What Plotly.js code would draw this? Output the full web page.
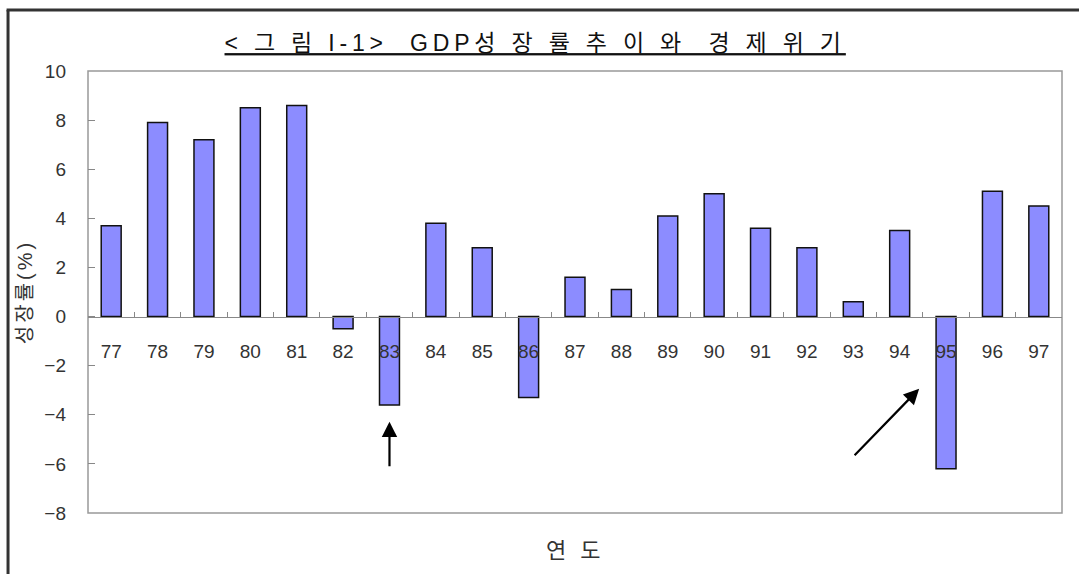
<!DOCTYPE html>
<html>
<head>
<meta charset="utf-8">
<script src="https://cdn.plot.ly/plotly-3.0.1.min.js"></script>
<style>
  html, body { margin: 0; padding: 0; background: #fff; }
  #chart { width: 1079px; height: 574px; }
</style>
</head>
<body>
<div id="chart"></div>
<script>
// Data
const years = ['77','78','79','80','81','82','83','84','85','86','87','88','89','90','91','92','93','94','95','96','97'];
const growth = [3.7, 7.9, 7.2, 8.5, 8.6, -0.5, -3.6, 3.8, 2.8, -3.3, 1.6, 1.1, 4.1, 5.0, 3.6, 2.8, 0.6, 3.5, -6.2, 5.1, 4.5];
const yTicks = [-8, -6, -4, -2, 0, 2, 4, 6, 8, 10];
const yMin = -8, yMax = 10;

const titleText = '<u><span style="letter-spacing:4.8px">&lt; 그 림 I-1&gt;  GDP성 장 률 추 이 와  경 제 위 기</span></u>';
const yTitle = '<span style="letter-spacing:3px">성장률(%)</span>';
const xTitle = '<span style="letter-spacing:4px">연 도</span>';

const fontFam = '"Liberation Sans", "Noto Sans CJK KR", Arial, sans-serif';

const trace = {
  type: 'bar',
  x: years,
  y: growth,
  marker: { color: '#8c8cff', line: { color: '#111', width: 1.5 } },
  hoverinfo: 'x+y'
};

const layout = {
  width: 1079, height: 574,
  margin: { l: 88, r: 17, t: 71, b: 61 },
  paper_bgcolor: '#fff', plot_bgcolor: '#fff',
  font: { family: fontFam, color: '#333' },
  showlegend: false,
  bargap: 0.57,
  title: {
    text: titleText,
    font: { family: fontFam, size: 23, color: '#111' },
    x: 0.496, xref: 'container', xanchor: 'center',
    y: 0.925, yref: 'container', yanchor: 'middle'
  },
  xaxis: {
    type: 'category',
    anchor: 'free',
    position: (0 - yMin) / (yMax - yMin),
    showline: true, linecolor: '#888', linewidth: 1.5,
    ticks: 'inside', tickson: 'boundaries', ticklen: 5, tickcolor: '#888', tickwidth: 1,
    tickfont: { size: 19, color: '#333' },
    ticklabelstandoff: 17,
    showgrid: false, zeroline: false, fixedrange: true
  },
  yaxis: {
    range: [yMin, yMax],
    tickvals: yTicks,
    ticktext: yTicks.map(v => String(v).replace('-', '\u2212')),
    ticks: 'inside', ticklen: 7, tickcolor: '#888',
    tickfont: { size: 19, color: '#333' },
    ticklabelstandoff: 21,
    showline: false, showgrid: false, zeroline: false, fixedrange: true,
    title: { text: yTitle, font: { size: 20, color: '#333' }, standoff: 6 }
  },
  shapes: [
    { type: 'rect', xref: 'paper', yref: 'paper', x0: 0, x1: 1, y0: 0, y1: 1,
      line: { color: '#999', width: 1.5 }, layer: 'below' },
    { type: 'line', xref: 'paper', yref: 'paper', x0: -0.0821, x1: -0.0821, y0: 1.138, y1: -0.16,
      line: { color: '#333', width: 3 } },
    { type: 'line', xref: 'paper', yref: 'paper', x0: -0.0836, x1: 1.03, y0: 1.138, y1: 1.138,
      line: { color: '#333', width: 3 } }
  ],
  annotations: [
    { xref: 'paper', yref: 'paper', x: 0.5, y: -0.084, xanchor: 'center', yanchor: 'middle',
      text: xTitle, showarrow: false, font: { size: 22, color: '#333' } },
    { xref: 'x', yref: 'y', x: 6, y: -4.28, ax: 0, ay: 46, text: '',
      showarrow: true, arrowhead: 2, arrowsize: 1.4, arrowwidth: 2.2, arrowcolor: '#000' },
    { xref: 'x', yref: 'y', x: 17.42, y: -2.94, ax: -66, ay: 68, text: '',
      showarrow: true, arrowhead: 2, arrowsize: 1.4, arrowwidth: 2.2, arrowcolor: '#000' }
  ]
};

Plotly.newPlot('chart', [trace], layout, { displayModeBar: false, staticPlot: true });
</script>
</body>
</html>
